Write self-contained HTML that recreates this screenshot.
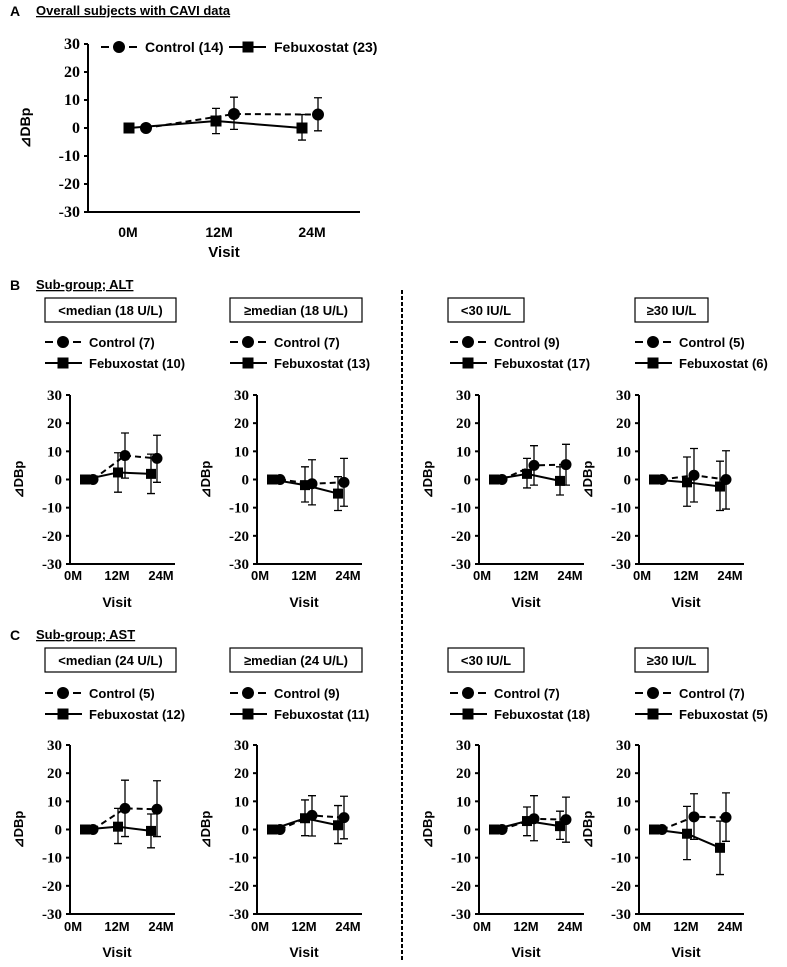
<!DOCTYPE html>
<html><head><meta charset="utf-8"><style>
body{margin:0;background:#fff;width:787px;height:962px;overflow:hidden}
svg text{font-family:"Liberation Sans",Arial,sans-serif;font-weight:bold;fill:#000}
svg text.num{font-family:"Liberation Serif",serif;font-weight:bold}
</style></head><body>
<svg id="chart" width="787" height="962" viewBox="0 0 787 962" xmlns="http://www.w3.org/2000/svg"></svg>
<script>
const visits=["0M","12M","24M"];
const yTicks=[30,20,10,0,-10,-20,-30];
const panelIds=["A","B1","B2","B3","B4","C1","C2","C3","C4"];
const boxLabels=["","<median (18 U/L)","≥median (18 U/L)","<30 IU/L","≥30 IU/L","<median (24 U/L)","≥median (24 U/L)","<30 IU/L","≥30 IU/L"];
const ctrlN=[14,7,7,9,5,5,9,7,7];
const febN=[23,10,13,17,6,12,11,18,5];
const ctrlMean=[[0,5,4.8],[0,8.5,7.5],[0,-1.5,-1],[0,5,5.3],[0,1.5,0],[0,7.5,7.2],[0,5,4.2],[0,3.8,3.5],[0,4.5,4.3]];
const ctrlHi=[[0,11,10.8],[0,16.5,15.7],[0,7,7.5],[0,12,12.5],[0,11,10.2],[0,17.5,17.3],[0,12,11.8],[0,12,11.5],[0,12.7,13]];
const ctrlLo=[[0,-0.5,-1],[0,0.5,-1],[0,-9,-9.5],[0,-2,-2],[0,-8,-10.5],[0,-2.5,-2.5],[0,-2.3,-3.3],[0,-4,-4.5],[0,-3.5,-4.2]];
const febMean=[[0,2.5,0],[0,2.5,2],[0,-2,-5],[0,2,-0.5],[0,-1,-2.5],[0,1,-0.5],[0,4,1.5],[0,3,1.2],[0,-1.5,-6.5]];
const febHi=[[0,7,4.8],[0,9.5,9],[0,4.5,1],[0,7.5,4.5],[0,8,6.5],[0,7.5,5.5],[0,10.5,8.5],[0,8,6.5],[0,8.2,3]];
const febLo=[[0,-2,-4.3],[0,-4.5,-5],[0,-8,-11],[0,-3,-5.5],[0,-9.5,-11],[0,-5,-6.5],[0,-2.2,-5],[0,-2.2,-3.5],[0,-10.7,-16]];

const NS="http://www.w3.org/2000/svg";
const svg=document.getElementById('chart');
function mk(tag,attrs,parent,txt){const e=document.createElementNS(NS,tag);for(const k in attrs)e.setAttribute(k,attrs[k]);if(txt!==undefined)e.textContent=txt;(parent||svg).appendChild(e);return e;}

let t;
t=mk('text',{x:10,y:16,'font-size':14},svg,'A');


t=mk('text',{x:36,y:15,'font-size':13,'text-decoration':'underline'},svg,'Overall subjects with CAVI data');


t=mk('text',{x:10,y:290,'font-size':14},svg,'B');


t=mk('text',{x:36,y:289,'font-size':13,'text-decoration':'underline'},svg,'Sub-group; ALT');


t=mk('text',{x:10,y:640,'font-size':14},svg,'C');


t=mk('text',{x:36,y:639,'font-size':13,'text-decoration':'underline'},svg,'Sub-group; AST');


let dv=mk('line',{x1:402,y1:290,x2:402,y2:962,stroke:'#000','stroke-width':2,'stroke-dasharray':'4,2'});



const layout=[
 {ax:88,top:44,bot:212,len:272,fx:[41,128,214],cx:[58,146,230],lx:[40,131,224],big:true},
];
const cols=[70,257,479,639];
const boxX=[[45,131],[230,132],[448,76],[635,73]];
const legX=[45,230,450,635];
for(let r=0;r<2;r++)for(let c=0;c<4;c++){
 const top=r===0?395:745,bot=r===0?564:914;
 layout.push({ax:cols[c],top:top,bot:bot,len:105,fx:[15,48,81],cx:[23,55,87],lx:[3,47,91],
  box:[boxX[c][0],r===0?298:648,boxX[c][1],24],leg:[legX[c],r===0?342:693],visitY:r===0?607:957,tickY:r===0?580:931});
}

function drawCtrlMarker(g,x,y,r){return mk('circle',{cx:x,cy:y,r:r,fill:'#000'},g);}
function drawFebMarker(g,x,y,s){return mk('rect',{x:x-s/2,y:y-s/2,width:s,height:s,fill:'#000'},g);}

panelIds.forEach((pid,i)=>{
 const L=layout[i];
 const g=mk('g',{});
 
 
 const yS=v=>L.top+(30-v)/60*(L.bot-L.top);
 const fs=L.big?14:13;
 const ya=mk('line',{x1:L.ax,y1:L.top,x2:L.ax,y2:L.bot+1,stroke:'#000','stroke-width':2},g);
 
 
 const xa=mk('line',{x1:L.ax-4,y1:L.bot,x2:L.ax+L.len,y2:L.bot,stroke:'#000','stroke-width':2},g);
 
 
 yTicks.forEach(v=>{
  const tk=mk('line',{x1:L.ax-4,y1:yS(v),x2:L.ax,y2:yS(v),stroke:'#000','stroke-width':2},g);
  
  
  const tl=mk('text',{x:L.ax-8,y:yS(v)+5,'text-anchor':'end','font-size':L.big?16:15,class:'num'},g,String(v));
  
  
 });
 const yt=mk('text',{transform:`translate(${L.ax-(L.big?58:47)},${yS(0)}) rotate(-90)`,'text-anchor':'middle','font-size':fs},g,'⊿DBp');
 
 
 visits.forEach((v,k)=>{
  const xl=mk('text',{x:L.ax+L.lx[k],y:L.big?L.bot+25:L.tickY,'text-anchor':'middle','font-size':fs},g,v);
  
  
 });
 const xt=mk('text',{x:L.big?L.ax+136:L.ax+47,y:L.big?L.bot+45:L.visitY,'text-anchor':'middle','font-size':fs+1},g,'Visit');
 
 
 const cpts=ctrlMean[i].map((v,k)=>[L.ax+L.cx[k],yS(v)]);
 const fpts=febMean[i].map((v,k)=>[L.ax+L.fx[k],yS(v)]);
 const cl=mk('polyline',{points:cpts.map(p=>p.join(',')).join(' '),fill:'none',stroke:'#000','stroke-width':2,'stroke-dasharray':'6,4'},g);
 
 
 const fl=mk('polyline',{points:fpts.map(p=>p.join(',')).join(' '),fill:'none',stroke:'#000','stroke-width':2},g);
 
 
 for(let k=1;k<3;k++){
  [[L.cx[k],ctrlHi[i][k],ctrlLo[i][k],'control-error-bar'],[L.fx[k],febHi[i][k],febLo[i][k],'febuxostat-error-bar']].forEach(e=>{
   const x=L.ax+e[0];
   const eb=mk('path',{d:`M${x},${yS(e[1])}V${yS(e[2])}M${x-4},${yS(e[1])}H${x+4}M${x-4},${yS(e[2])}H${x+4}`,stroke:'#000','stroke-width':1.3,fill:'none'},g);
   
   
  });
 }
 fpts.forEach(p=>{const m=drawFebMarker(g,p[0],p[1],L.big?11:10);
  
  });
 cpts.forEach(p=>{const m=drawCtrlMarker(g,p[0],p[1],L.big?6:5.5);
  
  });
 if(L.big){
  const lg=mk('g',{},g);
  
  
  mk('line',{x1:101,y1:47,x2:137,y2:47,stroke:'#000','stroke-width':2,'stroke-dasharray':'8,6'},lg);
  drawCtrlMarker(lg,119,47,6);
  mk('text',{x:145,y:52,'font-size':14},lg,'Control ('+ctrlN[i]+')');
  mk('line',{x1:229,y1:47,x2:266,y2:47,stroke:'#000','stroke-width':2},lg);
  drawFebMarker(lg,248,47,11);
  mk('text',{x:274,y:52,'font-size':14},lg,'Febuxostat ('+febN[i]+')');
 } else {
  const b=mk('rect',{x:L.box[0],y:L.box[1],width:L.box[2],height:L.box[3],fill:'#fff',stroke:'#000','stroke-width':1.2},g);
  
  
  const bt=mk('text',{x:L.box[0]+L.box[2]/2,y:L.box[1]+17,'text-anchor':'middle','font-size':13},g,boxLabels[i]);
  
  
  const lx=L.leg[0],ly=L.leg[1];
  const lg=mk('g',{},g);
  
  
  mk('line',{x1:lx,y1:ly,x2:lx+37,y2:ly,stroke:'#000','stroke-width':2,'stroke-dasharray':'8,6'},lg);
  drawCtrlMarker(lg,lx+18,ly,6);
  mk('text',{x:lx+44,y:ly+5,'font-size':13},lg,'Control ('+ctrlN[i]+')');
  mk('line',{x1:lx,y1:ly+21,x2:lx+37,y2:ly+21,stroke:'#000','stroke-width':2},lg);
  drawFebMarker(lg,lx+18,ly+21,11);
  mk('text',{x:lx+44,y:ly+26,'font-size':13},lg,'Febuxostat ('+febN[i]+')');
 }
});
</script>
</body></html>
